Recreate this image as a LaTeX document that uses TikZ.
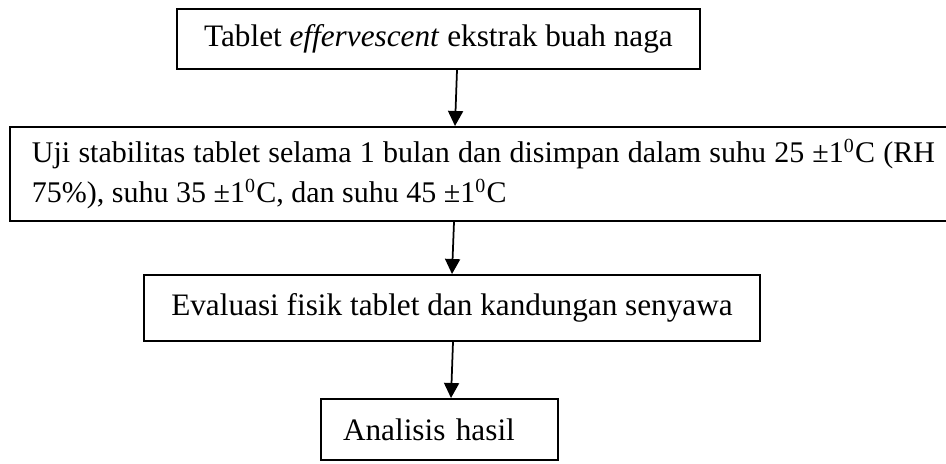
\documentclass[tikz,border=0pt]{standalone}
\usepackage{fontspec}
\setmainfont{Liberation Serif}
\usepackage{tikz}
\usetikzlibrary{arrows.meta, positioning}

\begin{document}
\begin{tikzpicture}[
  x=0.4pt, y=-0.4pt,
  every node/.style={font=\fontsize{12.5pt}{16pt}\selectfont},
  box/.style   = {rectangle, draw=black, line width=0.8pt, inner ysep=0pt, inner xsep=8.8pt, align=left},
  arrow/.style = {-{Triangle[width=6pt, length=6pt]}, line width=0.7pt}
]
\useasboundingbox (0,0) rectangle (946,464);

%% boxes, top to bottom
\node[box, minimum width=209.2pt, minimum height=24pt] (tablet) at (438.5,39)
  {Tablet \textit{effervescent} ekstrak buah naga};
\node[box, minimum width=378.8pt, minimum height=37.6pt, text width=361.2pt, align=justify,
      font=\fontsize{12pt}{16pt}\selectfont] (uji) at (483.5,174)
  {Uji stabilitas tablet selama 1 bulan dan disimpan dalam suhu 25 ±1\textsuperscript{0}C (RH\linebreak
   75\%), suhu 35 ±1\textsuperscript{0}C, dan suhu 45 ±1\textsuperscript{0}C};
\node[box, minimum width=246.4pt, minimum height=26.4pt] (evaluasi) at (452,308)
  {Evaluasi fisik tablet dan kandungan senyawa};
\node[box, minimum width=94.8pt, minimum height=24.4pt, text width=77.2pt] (analisis) at (439.5,429.5)
  {Analisis hasil};

%% arrows
\draw[arrow] ([xshift=7.4pt]tablet.south) -- ([xshift=-11.4pt]uji.north);
\draw[arrow] ([xshift=-11.8pt]uji.south) -- (evaluasi.north);
\draw[arrow] ([xshift=0.4pt]evaluasi.south) -- ([xshift=4.6pt]analisis.north);
\end{tikzpicture}
\end{document}
